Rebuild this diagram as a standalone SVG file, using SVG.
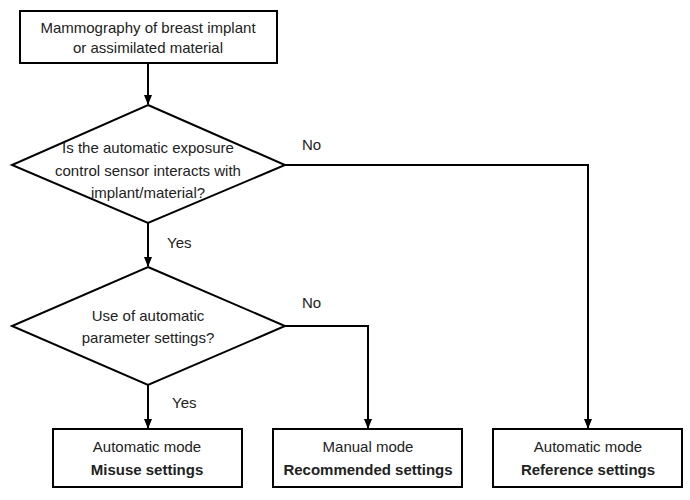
<svg xmlns="http://www.w3.org/2000/svg" width="690" height="500" viewBox="0 0 690 500">
<style>
.shape{fill:#fff;stroke:#000;stroke-width:2}
.t{font-family:"Liberation Sans",Arial,sans-serif;font-size:15px;fill:#222;text-anchor:middle}
.b{font-weight:bold;font-size:15px}
.lbl{font-family:"Liberation Sans",Arial,sans-serif;font-size:15px;fill:#222}
.c{fill:none;stroke:#000;stroke-width:2}
</style>
<defs>
<marker id="ah" markerWidth="10" markerHeight="10" refX="9" refY="5" orient="auto" markerUnits="userSpaceOnUse">
<path d="M0,1 L10,5 L0,9 Z" fill="#000"/>
</marker>
</defs>
<rect width="690" height="500" fill="#fff"/>
<g id="connectors">
<path class="c" d="M148,63 V104" marker-end="url(#ah)"/>
<path class="c" d="M148,223 V266" marker-end="url(#ah)"/>
<path class="c" d="M285,165 H588 V428" marker-end="url(#ah)"/>
<path class="c" d="M148,385 V428" marker-end="url(#ah)"/>
<path class="c" d="M285,326 H368 V428" marker-end="url(#ah)"/>
<text class="lbl" x="302" y="150">No</text>
<text class="lbl" x="167" y="248">Yes</text>
<text class="lbl" x="302" y="308">No</text>
<text class="lbl" x="172" y="408">Yes</text>
</g>
<g id="start">
<rect class="shape" x="20" y="11" width="257" height="52"/>
<text class="t" x="148" y="33">Mammography of breast implant</text>
<text class="t" x="148" y="53">or assimilated material</text>
</g>
<g id="decision1">
<polygon class="shape" points="148,105 285,165 148,223 12,165"/>
<text class="t" x="148" y="153">Is the automatic exposure</text>
<text class="t" x="148" y="176">control sensor interacts with</text>
<text class="t" x="148" y="198">implant/material?</text>
</g>
<g id="decision2">
<polygon class="shape" points="148,267 285,326 148,385 12,326"/>
<text class="t" x="148" y="321">Use of automatic</text>
<text class="t" x="148" y="343">parameter settings?</text>
</g>
<g id="misuse">
<rect class="shape" x="53" y="429" width="189" height="58"/>
<text class="t" x="147" y="452">Automatic mode</text>
<text class="t b" x="147" y="475">Misuse settings</text>
</g>
<g id="recommended">
<rect class="shape" x="273" y="429" width="189" height="58"/>
<text class="t" x="368" y="452">Manual mode</text>
<text class="t b" x="368" y="475">Recommended settings</text>
</g>
<g id="reference">
<rect class="shape" x="493" y="429" width="189" height="58"/>
<text class="t" x="588" y="452">Automatic mode</text>
<text class="t b" x="588" y="475">Reference settings</text>
</g>
</svg>
